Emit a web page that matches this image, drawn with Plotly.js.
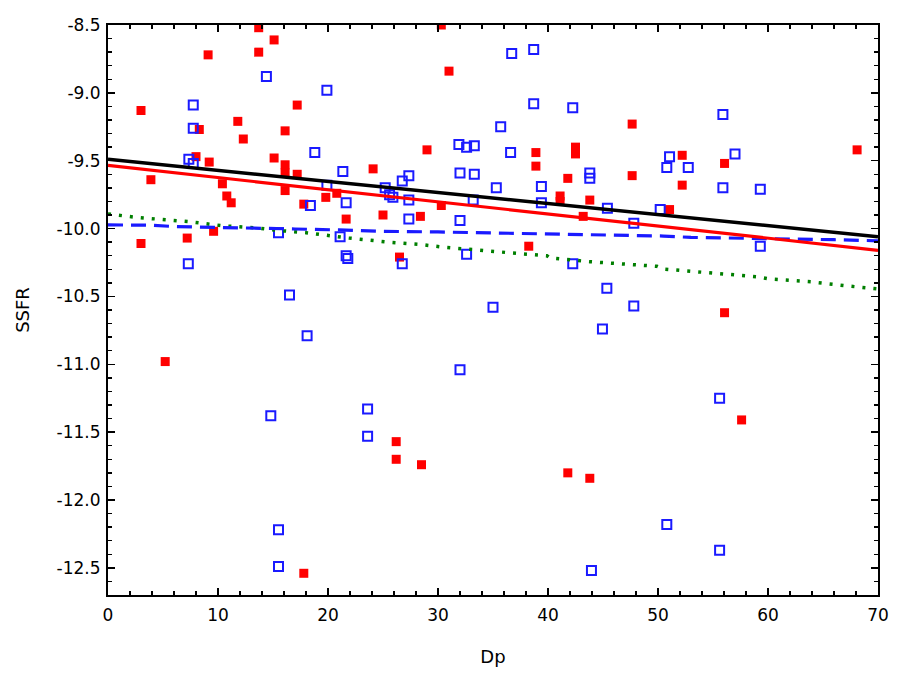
<!DOCTYPE html>
<html>
<head>
<meta charset="utf-8">
<script src="https://cdn.plot.ly/plotly-3.0.1.min.js"></script>
<style>
  html, body { margin: 0; padding: 0; background: #fff; }
  #plot { width: 900px; height: 675px; }
</style>
</head>
<body>
<div id="plot"></div>
<script>
// red filled squares
var redX = [13.7, 15.1, 13.7, 9.1, 30.3, 31.0, 3.0, 17.2, 11.8, 8.3, 16.1, 12.3, 29.0, 8.0, 9.2,
            15.1, 16.1, 16.1, 17.2, 24.1, 3.9, 10.4, 10.8, 11.2, 16.1, 17.8, 19.8, 20.8, 21.65, 25.0,
            28.4, 30.3, 9.6, 3.0, 7.2, 26.5, 47.65, 68.1, 38.9, 38.9, 42.5, 42.5, 52.2, 56.05, 41.8,
            47.65, 52.2, 41.1, 41.1, 43.8, 51.05, 43.2, 38.25, 56.05, 5.2, 26.2, 26.2, 28.5, 17.8, 57.6,
            41.8, 43.8];
var redY = [-8.52, -8.61, -8.70, -8.72, -8.50, -8.84, -9.13, -9.09, -9.21, -9.27, -9.28, -9.34, -9.42, -9.47, -9.51,
            -9.48, -9.53, -9.59, -9.60, -9.56, -9.64, -9.67, -9.76, -9.81, -9.72, -9.82, -9.77, -9.74, -9.93, -9.90,
            -9.91, -9.83, -10.02, -10.11, -10.07, -10.21, -9.23, -9.42, -9.44, -9.54, -9.40, -9.45, -9.46, -9.52, -9.63,
            -9.61, -9.68, -9.76, -9.80, -9.79, -9.86, -9.91, -10.13, -10.62, -10.98, -11.57, -11.70, -11.74, -12.54, -11.41,
            -11.80, -11.84];

// blue open squares
var blueX = [14.4, 19.9, 7.75, 7.75, 18.8, 7.35, 7.75, 21.35, 19.9, 26.75, 27.35, 25.2, 25.6, 25.9, 27.35,
             21.65, 18.4, 27.35, 31.9, 32.6, 33.3, 32.0, 33.3, 35.3, 33.2, 32.0, 35.7, 15.5, 21.1, 21.65,
             21.8, 26.75, 7.3, 32.6, 16.5, 35.0, 36.7, 38.7, 38.7, 42.25, 36.6, 55.9, 57.0, 51.05, 50.8,
             52.75, 43.8, 43.8, 39.4, 55.9, 59.3, 39.4, 45.4, 50.2, 47.8, 59.3, 42.25, 45.35, 47.8, 18.1,
             32.0, 14.8, 23.6, 23.6, 15.5, 15.5, 44.95, 55.6, 50.8, 55.6, 43.95];
var blueY = [-8.88, -8.98, -9.09, -9.26, -9.44, -9.49, -9.52, -9.58, -9.68, -9.65, -9.61, -9.70, -9.75, -9.77, -9.79,
             -9.81, -9.83, -9.93, -9.38, -9.40, -9.39, -9.59, -9.60, -9.70, -9.79, -9.94, -9.25, -10.03, -10.06, -10.20,
             -10.22, -10.26, -10.26, -10.19, -10.49, -10.58, -8.71, -8.68, -9.08, -9.11, -9.44, -9.16, -9.45, -9.47, -9.55,
             -9.55, -9.59, -9.63, -9.69, -9.70, -9.71, -9.81, -9.85, -9.86, -9.96, -10.13, -10.26, -10.44, -10.57, -10.79,
             -11.04, -11.38, -11.33, -11.53, -12.22, -12.49, -10.74, -11.25, -12.18, -12.37, -12.52];

// fitted lines
var blackFitX = [0, 70];
var blackFitY = [-9.49, -10.06];
var redFitX = [0, 70];
var redFitY = [-9.535, -10.16];

var blueFitX = [0, 4, 6, 10, 12, 17, 21, 25, 30, 35, 39, 44, 48, 50.5, 53, 59.4, 62, 66, 70];
var blueFitY = [-9.973, -9.975, -9.985, -9.99, -9.995, -10.003, -10.01, -10.02, -10.025, -10.032,
                -10.042, -10.045, -10.05, -10.055, -10.065, -10.072, -10.08, -10.082, -10.09];

var greenFitX = [0, 2.5, 7.35, 8.9, 10.5, 13.5, 15.6, 18, 19.8, 21.9, 25.5, 28.5, 30.6, 33.1, 35.2,
                 37.8, 39.9, 40.2, 43.8, 48, 49.9, 50.5, 54.1, 59, 60.2, 63.9, 66.9, 70];
var greenFitY = [-9.892, -9.917, -9.949, -9.966, -9.98, -9.995, -10.015, -10.03, -10.05, -10.07, -10.10,
                 -10.118, -10.138, -10.157, -10.17, -10.187, -10.2, -10.217, -10.244, -10.268, -10.278,
                 -10.298, -10.323, -10.355, -10.372, -10.392, -10.42, -10.445];

// tick labels
var xTicks = [0, 10, 20, 30, 40, 50, 60, 70];
var yTicks = [-8.5, -9.0, -9.5, -10.0, -10.5, -11.0, -11.5, -12.0, -12.5];
var yTickText = yTicks.map(function (v) { return v.toFixed(1); });

var fontFamily = 'DejaVu Sans, Liberation Sans, Arial, sans-serif';

var traces = [
  {
    x: redX, y: redY, mode: 'markers', type: 'scatter',
    marker: { symbol: 'square', size: 9, color: '#ff0000', line: { width: 0 } }
  },
  {
    x: blueX, y: blueY, mode: 'markers', type: 'scatter',
    marker: { symbol: 'square-open', size: 9, color: '#1a1aff', line: { width: 2 } }
  },
  {
    x: greenFitX, y: greenFitY, mode: 'lines', type: 'scatter',
    line: { color: '#007f00', width: 3.5, dash: '3px,8px' }
  },
  {
    x: blueFitX, y: blueFitY, mode: 'lines', type: 'scatter',
    line: { color: '#1a1aff', width: 3.2, dash: '15px,8px' }
  },
  {
    x: redFitX, y: redFitY, mode: 'lines', type: 'scatter',
    line: { color: '#ff0000', width: 3.2 }
  },
  {
    x: blackFitX, y: blackFitY, mode: 'lines', type: 'scatter',
    line: { color: '#000000', width: 3.5 }
  }
];

var axisCommon = {
  showgrid: false,
  zeroline: false,
  showline: true,
  linecolor: '#000',
  linewidth: 2,
  mirror: 'ticks',
  ticks: 'inside',
  ticklen: 7,
  tickwidth: 1.5,
  tickcolor: '#000',
  tickfont: { family: fontFamily, size: 17, color: '#000' }
};

var layout = {
  width: 900,
  height: 675,
  margin: { l: 108, r: 22, t: 25, b: 80 },
  paper_bgcolor: '#fff',
  plot_bgcolor: '#fff',
  showlegend: false,
  font: { family: fontFamily, size: 17, color: '#000' },
  xaxis: Object.assign({}, axisCommon, {
    range: [0, 70],
    tickvals: xTicks,
    ticklabelstandoff: 4,
    minor: { dtick: 2, ticks: 'inside', ticklen: 4, tickwidth: 1.5, tickcolor: '#000', showgrid: false },
    title: { text: 'Dp', font: { size: 18 }, standoff: 26 }
  }),
  yaxis: Object.assign({}, axisCommon, {
    range: [-12.7, -8.5],
    tickvals: yTicks,
    ticktext: yTickText,
    ticklabelstandoff: 2,
    minor: { dtick: 0.1, ticks: 'inside', ticklen: 4, tickwidth: 1.5, tickcolor: '#000', showgrid: false },
    title: { text: 'SSFR', font: { size: 18 }, standoff: 22 }
  })
};

Plotly.newPlot('plot', traces, layout, { staticPlot: true });
</script>
</body>
</html>
